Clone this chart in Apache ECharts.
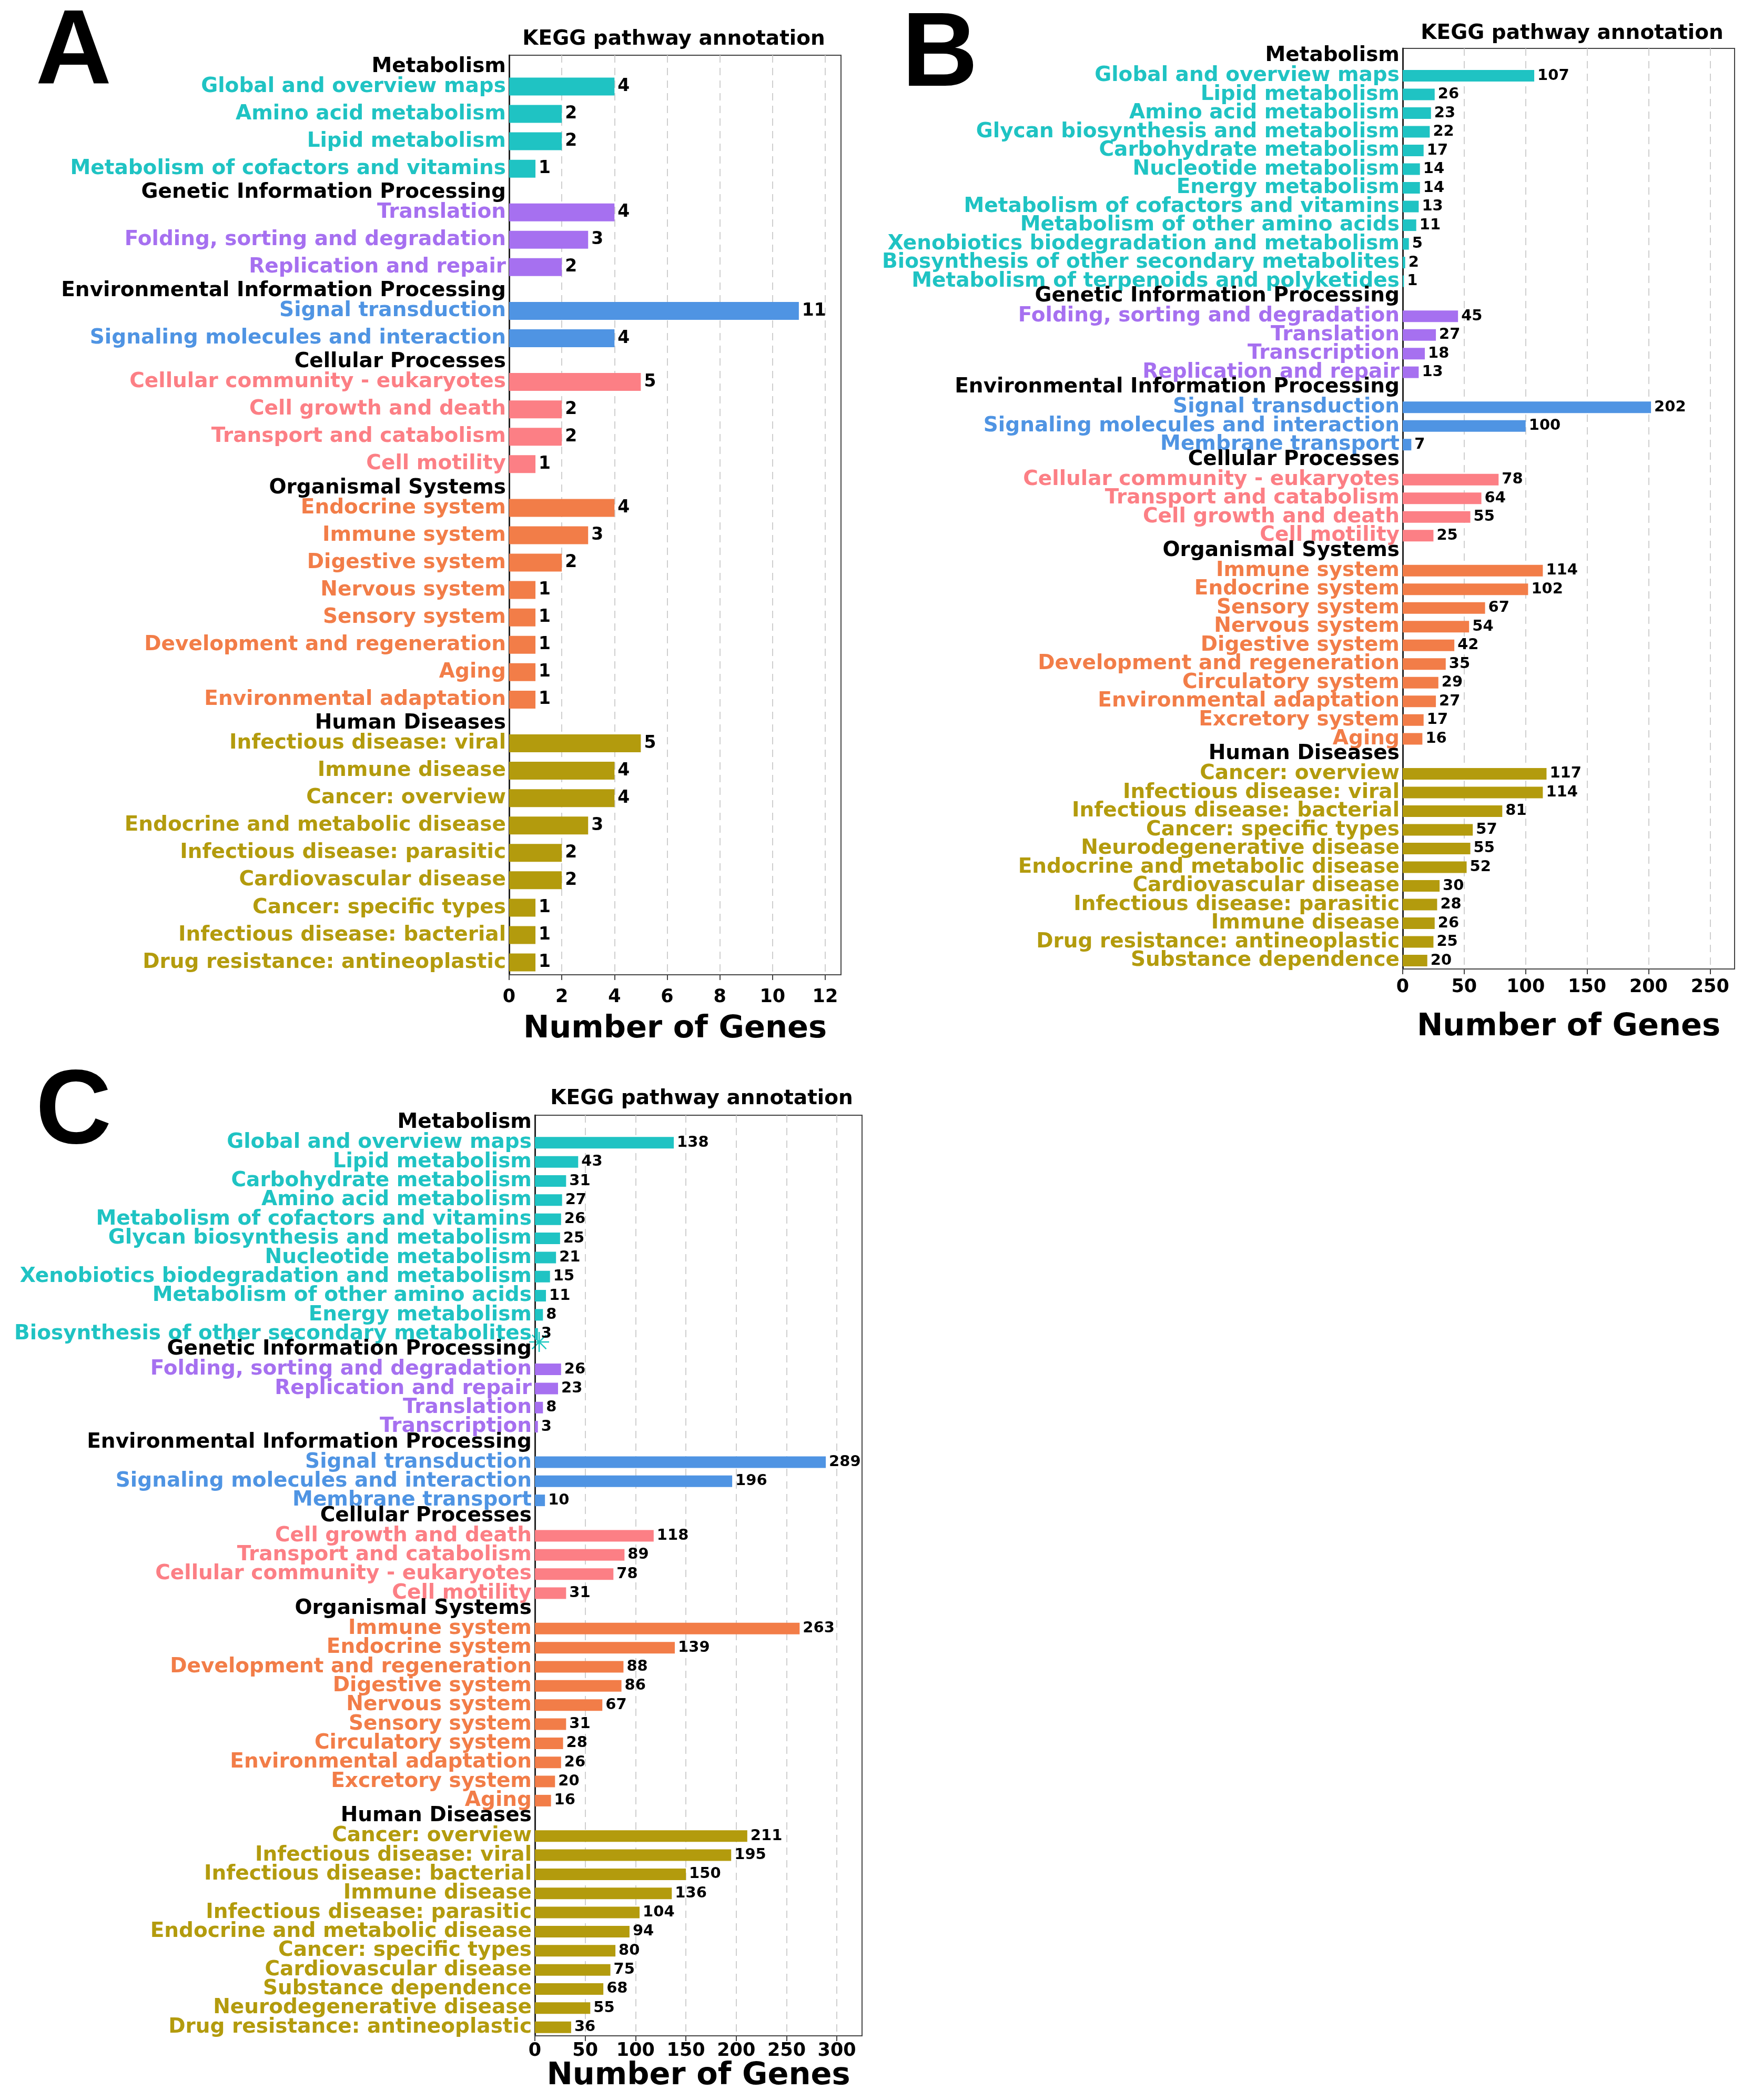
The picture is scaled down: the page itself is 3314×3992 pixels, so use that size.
<!DOCTYPE html>
<html>
<head>
<meta charset="utf-8">
<title>KEGG pathway annotation</title>
<script src="https://cdn.jsdelivr.net/npm/echarts@6/dist/echarts.min.js"></script>
<style>
  html, body { margin: 0; padding: 0; background: #fff; }
  #chart { width: 3314px; height: 3992px; }
</style>
</head>
<body>
<div id="chart"></div>
<script>
// KEGG level-1 groups, same order in all three panels
var groupNames = ['Metabolism', 'Genetic Information Processing', 'Environmental Information Processing',
  'Cellular Processes', 'Organismal Systems', 'Human Diseases'];
var groupColors = ['#1fc3c3', '#a670f0', '#4f94e3', '#fc7f85', '#f27d48', '#b39b0d'];

// panel A
var namesA = ['Global and overview maps', 'Amino acid metabolism', 'Lipid metabolism', 'Metabolism of cofactors and vitamins',
  'Translation', 'Folding, sorting and degradation', 'Replication and repair',
  'Signal transduction', 'Signaling molecules and interaction',
  'Cellular community - eukaryotes', 'Cell growth and death', 'Transport and catabolism', 'Cell motility',
  'Endocrine system', 'Immune system', 'Digestive system', 'Nervous system', 'Sensory system',
  'Development and regeneration', 'Aging', 'Environmental adaptation',
  'Infectious disease: viral', 'Immune disease', 'Cancer: overview', 'Endocrine and metabolic disease',
  'Infectious disease: parasitic', 'Cardiovascular disease', 'Cancer: specific types',
  'Infectious disease: bacterial', 'Drug resistance: antineoplastic'];
var valuesA = [4, 2, 2, 1, 4, 3, 2, 11, 4, 5, 2, 2, 1, 4, 3, 2, 1, 1, 1, 1, 1, 5, 4, 4, 3, 2, 2, 1, 1, 1];
var countsA = [4, 3, 2, 4, 8, 9];
var ticksA = [0, 2, 4, 6, 8, 10, 12];

// panel B
var namesB = ['Global and overview maps', 'Lipid metabolism', 'Amino acid metabolism', 'Glycan biosynthesis and metabolism',
  'Carbohydrate metabolism', 'Nucleotide metabolism', 'Energy metabolism', 'Metabolism of cofactors and vitamins',
  'Metabolism of other amino acids', 'Xenobiotics biodegradation and metabolism',
  'Biosynthesis of other secondary metabolites', 'Metabolism of terpenoids and polyketides',
  'Folding, sorting and degradation', 'Translation', 'Transcription', 'Replication and repair',
  'Signal transduction', 'Signaling molecules and interaction', 'Membrane transport',
  'Cellular community - eukaryotes', 'Transport and catabolism', 'Cell growth and death', 'Cell motility',
  'Immune system', 'Endocrine system', 'Sensory system', 'Nervous system', 'Digestive system',
  'Development and regeneration', 'Circulatory system', 'Environmental adaptation', 'Excretory system', 'Aging',
  'Cancer: overview', 'Infectious disease: viral', 'Infectious disease: bacterial', 'Cancer: specific types',
  'Neurodegenerative disease', 'Endocrine and metabolic disease', 'Cardiovascular disease',
  'Infectious disease: parasitic', 'Immune disease', 'Drug resistance: antineoplastic', 'Substance dependence'];
var valuesB = [107, 26, 23, 22, 17, 14, 14, 13, 11, 5, 2, 1,
  45, 27, 18, 13,
  202, 100, 7,
  78, 64, 55, 25,
  114, 102, 67, 54, 42, 35, 29, 27, 17, 16,
  117, 114, 81, 57, 55, 52, 30, 28, 26, 25, 20];
var countsB = [12, 4, 3, 4, 10, 11];
var ticksB = [0, 50, 100, 150, 200, 250];

// panel C
var namesC = ['Global and overview maps', 'Lipid metabolism', 'Carbohydrate metabolism', 'Amino acid metabolism',
  'Metabolism of cofactors and vitamins', 'Glycan biosynthesis and metabolism', 'Nucleotide metabolism',
  'Xenobiotics biodegradation and metabolism', 'Metabolism of other amino acids', 'Energy metabolism',
  'Biosynthesis of other secondary metabolites',
  'Folding, sorting and degradation', 'Replication and repair', 'Translation', 'Transcription',
  'Signal transduction', 'Signaling molecules and interaction', 'Membrane transport',
  'Cell growth and death', 'Transport and catabolism', 'Cellular community - eukaryotes', 'Cell motility',
  'Immune system', 'Endocrine system', 'Development and regeneration', 'Digestive system', 'Nervous system',
  'Sensory system', 'Circulatory system', 'Environmental adaptation', 'Excretory system', 'Aging',
  'Cancer: overview', 'Infectious disease: viral', 'Infectious disease: bacterial', 'Immune disease',
  'Infectious disease: parasitic', 'Endocrine and metabolic disease', 'Cancer: specific types',
  'Cardiovascular disease', 'Substance dependence', 'Neurodegenerative disease', 'Drug resistance: antineoplastic'];
var valuesC = [138, 43, 31, 27, 26, 25, 21, 15, 11, 8, 3,
  26, 23, 8, 3,
  289, 196, 10,
  118, 89, 78, 31,
  263, 139, 88, 86, 67, 31, 28, 26, 20, 16,
  211, 195, 150, 136, 104, 94, 80, 75, 68, 55, 36];
var countsC = [11, 4, 3, 4, 10, 11];
var ticksC = [0, 50, 100, 150, 200, 250, 300];

var FONT = '"DejaVu Sans", sans-serif';

// layout of each panel (pixels)
var panels = [
  { names: namesA, values: valuesA, counts: countsA, ticks: ticksA, max: 12.6, step: 2,
    grid: { left: 968, top: 105, width: 631, height: 1748 },
    bar: 34, nameSize: 39, valueSize: 33, labelMargin: 25, nameGap: 74 },
  { names: namesB, values: valuesB, counts: countsB, ticks: ticksB, max: 270, step: 50,
    grid: { left: 2667, top: 92, width: 631, height: 1750 },
    bar: 22, nameSize: 39, valueSize: 29, labelMargin: 17, nameGap: 81 },
  { names: namesC, values: valuesC, counts: countsC, ticks: ticksC, max: 325, step: 50,
    grid: { left: 1017, top: 2120, width: 622, height: 1750 },
    bar: 22, nameSize: 39, valueSize: 29, labelMargin: 11, nameGap: 42 }
];

var PAD = 0.45, TOP_PX = 36, GAP_PX = 31, HDR_PX = 38;

// row positions: one unit per pathway, plus a fixed pixel gap before every group header
panels.forEach(function (p) {
  var n = p.values.length;
  var u = (p.grid.height - TOP_PX - 5 * GAP_PX) / (n - 1 + 2 * PAD);
  p.groups = [];
  p.rows = [];
  p.headers = [];
  var i = 0;
  p.counts.forEach(function (c, g) {
    for (var k = 0; k < c; k++, i++) {
      var pos = i + g * GAP_PX / u;
      if (k === 0) p.headers.push([0, pos - HDR_PX / u]);
      p.groups.push(g);
      p.rows.push([p.values[i], pos]);
    }
  });
  p.yMin = -(PAD + TOP_PX / u);
  p.yMax = p.rows[n - 1][1] + PAD;
});

function barRenderer(p) {
  return function (params, api) {
    var i = params.dataIndex;
    var v = api.value(0), y = api.value(1);
    var a = api.coord([0, y]);
    var b = api.coord([v, y]);
    var col = groupColors[p.groups[i]];
    return {
      type: 'group',
      children: [
        { type: 'rect', shape: { x: a[0], y: a[1] - p.bar / 2, width: b[0] - a[0], height: p.bar },
          style: { fill: col } },
        { type: 'text', x: b[0] + 6, y: b[1],
          style: { text: String(v), fill: '#000', font: 'bold ' + p.valueSize + 'px ' + FONT,
            align: 'left', verticalAlign: 'middle' } },
        { type: 'text', x: a[0] - 6, y: a[1],
          style: { text: p.names[i], fill: col, font: 'bold ' + p.nameSize + 'px ' + FONT,
            align: 'right', verticalAlign: 'middle' } }
      ]
    };
  };
}

function headerRenderer(p) {
  return function (params, api) {
    var a = api.coord([0, api.value(1)]);
    return {
      type: 'text', x: a[0] - 6, y: a[1],
      style: { text: groupNames[params.dataIndex], fill: '#000', font: 'bold 39px ' + FONT,
        align: 'right', verticalAlign: 'middle' }
    };
  };
}

var grids = [], xAxes = [], yAxes = [], series = [];
panels.forEach(function (p, k) {
  grids.push({ left: p.grid.left, top: p.grid.top, width: p.grid.width, height: p.grid.height,
    show: true, borderColor: '#444', borderWidth: 2, containLabel: false });
  xAxes.push({
    gridIndex: k, type: 'value', min: 0, max: p.max, interval: p.step,
    name: 'Number of Genes', nameLocation: 'middle', nameGap: p.nameGap,
    nameTextStyle: { fontFamily: FONT, fontWeight: 'bold', fontSize: 59, color: '#000' },
    axisLine: { show: true, onZero: false, lineStyle: { color: '#444', width: 2 } },
    axisTick: { show: true, length: 10, customValues: p.ticks, lineStyle: { color: '#444', width: 2 } },
    axisLabel: { customValues: p.ticks, margin: p.labelMargin, fontFamily: FONT, fontWeight: 'bold',
      fontSize: 35, color: '#000' },
    splitLine: { show: true, lineStyle: { color: '#cfcfcf', width: 2, type: [14, 10] } }
  });
  yAxes.push({
    gridIndex: k, type: 'value', inverse: true, min: p.yMin, max: p.yMax,
    axisLine: { show: true, onZero: false, lineStyle: { color: '#222', width: 3 } },
    axisTick: { show: false }, axisLabel: { show: false }, splitLine: { show: false }
  });
  series.push({
    type: 'custom', coordinateSystem: 'cartesian2d', xAxisIndex: k, yAxisIndex: k,
    encode: { x: 0, y: 1 }, data: p.rows, renderItem: barRenderer(p), clip: false
  });
  series.push({
    type: 'custom', coordinateSystem: 'cartesian2d', xAxisIndex: k, yAxisIndex: k,
    encode: { x: 0, y: 1 }, data: p.headers, renderItem: headerRenderer(p), clip: false
  });
});

function titleText(x, y, text) {
  return { type: 'text', x: x, y: y,
    style: { text: text, fill: '#000', font: 'bold 39px ' + FONT, align: 'center', verticalAlign: 'middle' } };
}
function letterText(x, y, text) {
  return { type: 'text', x: x, y: y,
    style: { text: text, fill: '#000', font: 'bold 200px "Liberation Sans", Arial, sans-serif',
      align: 'center', verticalAlign: 'middle' } };
}

var chart = echarts.init(document.getElementById('chart'));
chart.setOption({
  animation: false,
  backgroundColor: '#fff',
  grid: grids,
  xAxis: xAxes,
  yAxis: yAxes,
  series: series,
  graphic: [
    letterText(140, 103, 'A'),
    letterText(1787, 108, 'B'),
    letterText(140, 2118, 'C'),
    titleText(1281, 75, 'KEGG pathway annotation'),
    titleText(2989, 64, 'KEGG pathway annotation'),
    titleText(1334, 2089, 'KEGG pathway annotation'),
    { type: 'text', x: 1025, y: 2556,
      style: { text: '\u2733', fill: '#1fc8c0', font: '52px ' + FONT, align: 'center', verticalAlign: 'middle' } }
  ]
});
</script>
</body>
</html>
